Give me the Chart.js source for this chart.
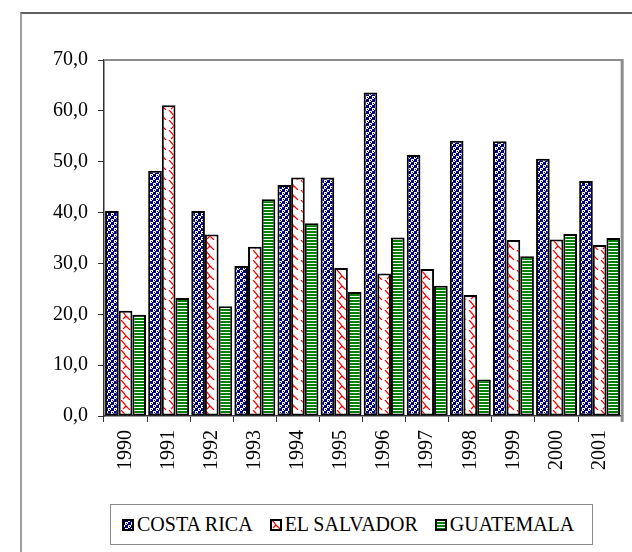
<!DOCTYPE html>
<html>
<head>
<meta charset="utf-8">
<script src="https://cdn.jsdelivr.net/npm/chart.js@4"></script>
<style>
  body { margin: 0; background: #fff; }
  #wrap { position: relative; width: 632px; height: 552px; overflow: hidden; }
  #frame {
    position: absolute; left: 20px; top: 12px; width: 640px; height: 560px;
    border-left: 2px solid #a0a0a0; border-top: 2px solid #606060;
  }
  #myChart { position: absolute; left: 0; top: 0; }
  #legend {
    position: absolute; left: 110px; top: 504px; width: 483px; height: 41px;
    box-sizing: border-box; border: 1px solid #8a8a8a; background: #fff;
    display: flex; align-items: center; padding-left: 11px;
    font-family: "Liberation Serif"; font-size: 20px; color: #000;
  }
  .item { display: flex; align-items: center; margin-right: 17px; white-space: nowrap; }
  .item canvas { margin-right: 3px; }
</style>
</head>
<body>
<div id="wrap">
  <div id="frame"></div>
  <canvas id="myChart" width="632" height="552"></canvas>
  <div id="legend"></div>
</div>
<script>
const years = ["1990", "1991", "1992", "1993", "1994", "1995", "1996", "1997", "1998", "1999", "2000", "2001"];
const costaRica = [40.3, 48.2, 40.3, 29.5, 45.4, 46.9, 63.6, 51.3, 54.1, 54.0, 50.6, 46.2];
const elSalvador = [20.7, 61.1, 35.7, 33.3, 46.9, 29.1, 28.0, 28.9, 23.8, 34.6, 34.7, 33.6];
const guatemala = [19.9, 23.2, 21.6, 42.6, 37.9, 24.4, 35.1, 25.6, 7.2, 31.4, 35.8, 35.0];
const seriesNames = ["COSTA RICA", "EL SALVADOR", "GUATEMALA"];
const yMax = 70;
const yStep = 10;

const font = { family: "Liberation Serif", size: 20 };

// ....................patterns....................
function makeTile(w, h, draw) {
  const c = document.createElement("canvas");
  c.width = w;
  c.height = h;
  draw(c.getContext("2d"));
  return c;
}

const checkTile = makeTile(6, 6, (ctx) => {
  ctx.fillStyle = "#000080";
  ctx.fillRect(0, 0, 6, 6);
  ctx.fillStyle = "#ffffff";
  ctx.fillRect(0, 0, 3, 3);
  ctx.fillRect(3, 3, 3, 3);
  ctx.fillStyle = "#000080";
  ctx.fillRect(1, 1, 1, 1);
  ctx.fillRect(2, 2, 1, 1);
  ctx.fillRect(4, 4, 1, 1);
  ctx.fillRect(5, 5, 1, 1);
});

const waveTile = makeTile(12, 10, (ctx) => {
  ctx.fillStyle = "#ffffff";
  ctx.fillRect(0, 0, 12, 10);
  ctx.strokeStyle = "#ff0000";
  ctx.lineWidth = 1.2;
  ctx.beginPath();
  ctx.moveTo(1, 0);
  ctx.quadraticCurveTo(4, 3, 6, 6);
  ctx.lineTo(10, 10);
  ctx.moveTo(6, 6);
  ctx.lineTo(3, 9);
  ctx.stroke();
});

const stripeTile = makeTile(4, 3, (ctx) => {
  ctx.fillStyle = "#008000";
  ctx.fillRect(0, 0, 4, 3);
  ctx.fillStyle = "#ffffff";
  ctx.fillRect(0, 2, 4, 1);
});

const chartEl = document.getElementById("myChart");
const mainCtx = chartEl.getContext("2d");
const fills = [
  mainCtx.createPattern(checkTile, "repeat"),
  mainCtx.createPattern(waveTile, "repeat"),
  mainCtx.createPattern(stripeTile, "repeat"),
];
const seriesValues = [costaRica, elSalvador, guatemala];

// ....................plot frame....................
const plotFrame = {
  id: "plotFrame",
  afterDraw(chart) {
    const a = chart.chartArea;
    const ctx = chart.ctx;
    ctx.save();
    ctx.strokeStyle = "#8c8c8c";
    ctx.lineWidth = 2;
    ctx.beginPath();
    ctx.moveTo(a.left, a.top);
    ctx.lineTo(a.right, a.top);
    ctx.stroke();
    ctx.lineWidth = 3;
    ctx.beginPath();
    ctx.moveTo(a.right + 1, a.top - 1);
    ctx.lineTo(a.right + 1, a.bottom + 6);
    ctx.stroke();
    ctx.restore();
  },
};

const config = {
  type: "bar",
  data: {
    labels: years,
    datasets: seriesNames.map((name, i) => ({
      label: name,
      data: seriesValues[i],
      backgroundColor: fills[i],
      borderColor: "#000000",
      borderWidth: 2,
      borderSkipped: false,
      barPercentage: 1,
      categoryPercentage: 0.95,
    })),
  },
  options: {
    responsive: false,
    animation: false,
    layout: { padding: { top: 60, left: 0, right: 9, bottom: 76 } },
    plugins: {
      legend: { display: false },
      tooltip: { enabled: false },
    },
    scales: {
      x: {
        afterFit: (scale) => {
          scale.height = 60;
        },
        grid: {
          drawOnChartArea: false,
          drawTicks: true,
          tickLength: 6,
          color: "#333333",
          lineWidth: 1,
        },
        border: { color: "#333333", width: 1.5 },
        ticks: {
          font: font,
          color: "#000000",
          minRotation: 90,
          maxRotation: 90,
          padding: 8,
        },
      },
      y: {
        min: 0,
        max: yMax,
        afterFit: (scale) => {
          scale.width = 104;
        },
        grid: {
          drawOnChartArea: false,
          drawTicks: true,
          tickLength: 6,
          color: "#333333",
        },
        border: { color: "#333333", width: 1.5 },
        ticks: {
          stepSize: yStep,
          font: font,
          color: "#000000",
          padding: 10,
          callback: (v) => v.toFixed(1).replace(".", ","),
        },
      },
    },
  },
  plugins: [plotFrame],
};

const myChart = new Chart(chartEl, config);

// ....................legend....................
const legendEl = document.getElementById("legend");
seriesNames.forEach((name, i) => {
  const item = document.createElement("div");
  item.className = "item";
  const mark = document.createElement("canvas");
  mark.width = 12;
  mark.height = 12;
  const mctx = mark.getContext("2d");
  mctx.fillStyle = mctx.createPattern([checkTile, waveTile, stripeTile][i], "repeat");
  mctx.fillRect(0, 0, 12, 12);
  mctx.strokeStyle = "#000000";
  mctx.lineWidth = 2;
  mctx.strokeRect(1, 1, 10, 10);
  item.appendChild(mark);
  const txt = document.createElement("span");
  txt.textContent = name;
  item.appendChild(txt);
  legendEl.appendChild(item);
});
</script>
</body>
</html>
